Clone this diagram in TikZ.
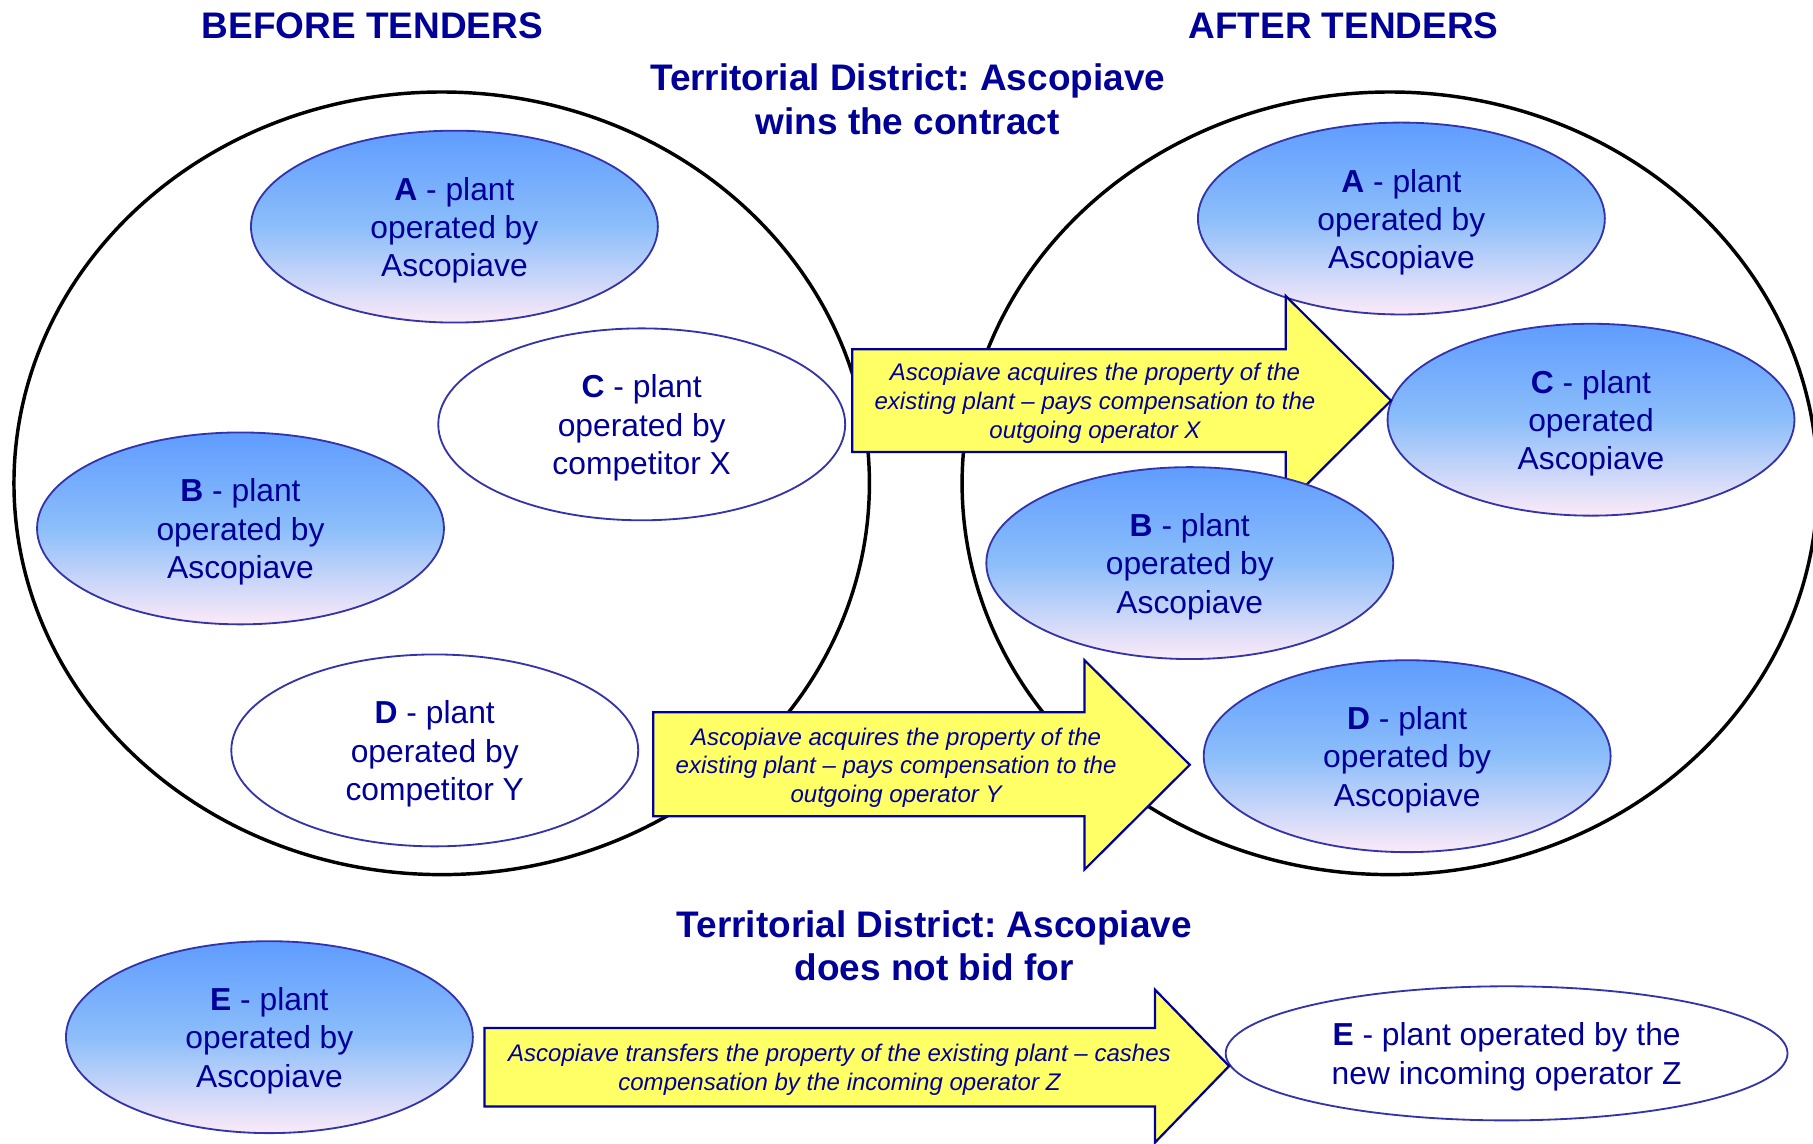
\documentclass[tikz,border=0pt]{standalone}
\usepackage{fontspec}
\setmainfont{Liberation Sans}
\usetikzlibrary{shapes.geometric}
\definecolor{navy}{RGB}{0,0,153}
\definecolor{rimblue}{RGB}{51,51,170}
\definecolor{topblue}{RGB}{95,156,255}
\definecolor{midblue}{RGB}{140,190,250}
\definecolor{palepink}{RGB}{252,234,248}
\definecolor{arrowyellow}{RGB}{255,255,102}
\frenchspacing
% plant letter, with a strut that lowers the text a little
\newcommand{\plantid}[1]{\rule{0pt}{14.8pt}\textbf{#1}}
\begin{document}
\begin{tikzpicture}[x=0.02cm, y=-0.02cm,
  district/.style={draw=black, line width=1.7pt, ellipse, inner sep=0pt,
    minimum width=14.8cm, minimum height=13.54cm},
  plant/.style={draw=rimblue, line width=0.9pt, ellipse, inner sep=0pt,
    minimum width=7.04cm, minimum height=3.32cm, align=center, text=navy,
    font=\fontsize{15.65}{18.8}\selectfont},
  ours/.style={plant, top color=topblue, bottom color=palepink, middle color=midblue},
  theirs/.style={plant, fill=white},
  heading/.style={text=navy, align=center, font=\bfseries\fontsize{18.2}{21.6}\selectfont},
  blockarrow/.style={draw=navy, line width=1.1pt, fill=arrowyellow, line join=miter},
  deal/.style={text=navy, align=center, font=\itshape\fontsize{11.83}{14.2}\selectfont}]
  \useasboundingbox (0,0) rectangle (1568,989);
  \clip (0,0) rectangle (1568,989);

  % headings
  \node[heading] (before) at (322,22) {BEFORE TENDERS};
  \node[heading] (after) at (1162,22) {AFTER TENDERS};
  \node[heading] (wins) at (785,86) {Territorial District: Ascopiave\\wins the contract};
  \node[heading] (nobid) at (808,818) {Territorial District: Ascopiave\\does not bid for};

  % districts
  \node[district] (old) at (382,418) {};
  \node[district] (new) at (1202,418) {};

  % before tenders
  \node[ours] (oldA) at (393,196) {\plantid{A} - plant\\operated by\\Ascopiave};
  \node[theirs] (oldC) at (555,367) {\plantid{C} - plant\\operated by\\competitor X};
  \node[ours] (oldB) at (208,457) {\plantid{B} - plant\\operated by\\Ascopiave};
  \node[theirs] (oldD) at (376,649) {\plantid{D} - plant\\operated by\\competitor Y};
  \node[ours] (oldE) at (233,897) {\plantid{E} - plant\\operated by\\Ascopiave};

  % after tenders
  \node[ours] (newA) at (1212,189) {\plantid{A} - plant\\operated by\\Ascopiave};
  \node[ours] (newC) at (1376,363) {\plantid{C} - plant\\operated\\Ascopiave};
  \node[ours] (newD) at (1217,654) {\plantid{D} - plant\\operated by\\Ascopiave};
  \node[theirs, minimum width=9.72cm, minimum height=2.32cm] (newE) at (1303,911)
    {\plantid{E} - plant operated by the\\new incoming operator Z};

  % transfers
  \draw[blockarrow] (737,302) -- (1112,302) -- (1112,256) -- (1203,346.5)
    -- (1112,437) -- (1112,391) -- (737,391) -- cycle;
  \node[deal] (dealX) at (947,349) {Ascopiave acquires the property of the\\existing plant -- pays compensation to the\\outgoing operator X};
  \draw[blockarrow] (565,616) -- (938,616) -- (938,571) -- (1029,661.5)
    -- (938,752) -- (938,706) -- (565,706) -- cycle;
  \node[deal] (dealY) at (775,664) {Ascopiave acquires the property of the\\existing plant -- pays compensation to the\\outgoing operator Y};
  \draw[blockarrow] (419,889) -- (999,889) -- (999,856) -- (1063,922)
    -- (999,988) -- (999,957) -- (419,957) -- cycle;
  \node[deal] (dealZ) at (726,925) {Ascopiave transfers the property of the existing plant -- cashes\\compensation by the incoming operator Z};

  \node[ours] (newB) at (1029,487) {\plantid{B} - plant\\operated by\\Ascopiave};
\end{tikzpicture}
\end{document}
